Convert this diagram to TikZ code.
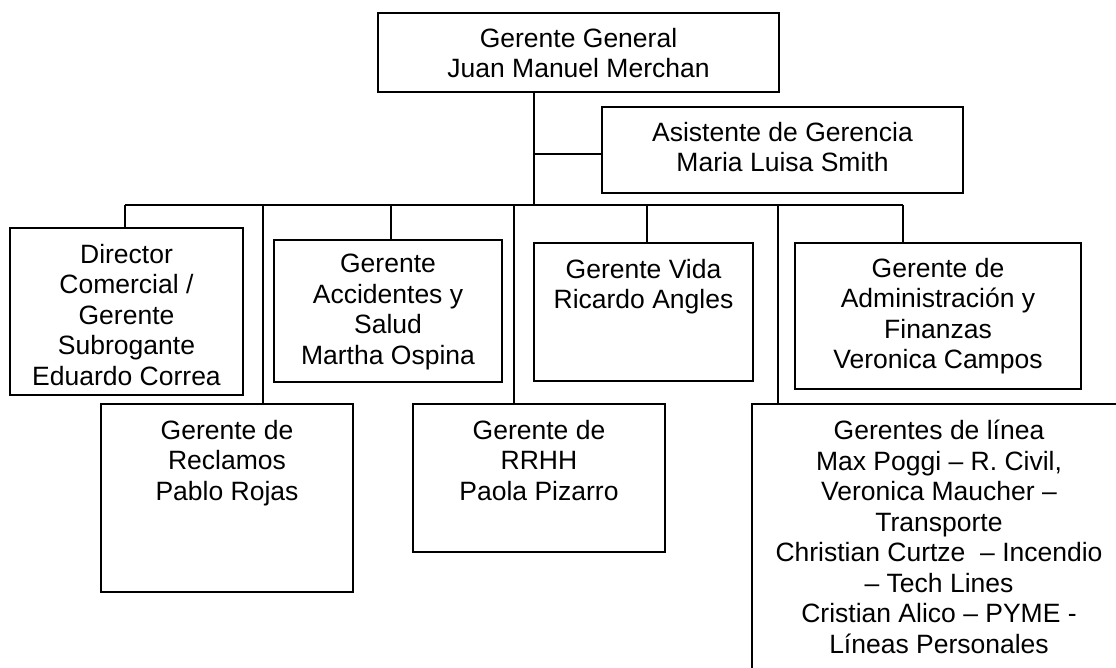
\documentclass[tikz,border=0pt]{standalone}
\usepackage{fontspec}
\setmainfont{Liberation Sans}
\usetikzlibrary{positioning}

\tikzset{
  caja/.style={draw, line width=2pt, anchor=north west, inner sep=0pt, outer sep=0pt},
  texto/.style={align=center, anchor=north, inner sep=0pt,
    font=\fontsize{26.5pt}{30.5pt}\selectfont},
  linea/.style={line width=1.3pt}
}

\begin{document}
\begin{tikzpicture}[x=1pt, y=-1pt]
  \useasboundingbox (0,0) rectangle (1116,667);
  \clip (0,0) rectangle (1116,667);

  \newcommand\BusY{205}

  %% boxes
  \node[caja, minimum width=401pt, minimum height=79pt]  (gg)   at (378,13)  {};
  \node[caja, minimum width=361pt, minimum height=86pt]  (ag)   at (602,107) {};
  \node[caja, minimum width=233pt, minimum height=167pt] (dc)   at (10,228)  {};
  \node[caja, minimum width=228pt, minimum height=142pt] (acc)  at (274,240) {};
  \node[caja, minimum width=219pt, minimum height=138pt] (vida) at (534,243) {};
  \node[caja, minimum width=286pt, minimum height=146pt] (adm)  at (795,243) {};
  \node[caja, minimum width=252pt, minimum height=188pt] (rec)  at (101,404) {};
  \node[caja, minimum width=252pt, minimum height=148pt] (rrhh) at (413,404) {};
  \node[caja, minimum width=374pt, minimum height=290pt] (lin)  at (752,404) {};

  %% texts
  \node[texto, below=15pt of gg.north]   (t-gg)   {Gerente General\\Juan Manuel Merchan};
  \node[texto, below=15pt of ag.north]   (t-ag)   {Asistente de Gerencia\\Maria Luisa Smith};
  \node[texto, below=16pt of dc.north]   (t-dc)   {Director\\Comercial /\\Gerente\\Subrogante\\Eduardo Correa};
  \node[texto, below=14pt of acc.north]  (t-acc)  {Gerente\\Accidentes y\\Salud\\Martha Ospina};
  \node[texto, below=16pt of vida.north] (t-vida) {Gerente Vida\\Ricardo Angles};
  \node[texto, below=15pt of adm.north]  (t-adm)  {Gerente de\\Administración y\\Finanzas\\Veronica Campos};
  \node[texto, below=16pt of rec.north]  (t-rec)  {Gerente de\\Reclamos\\Pablo Rojas};
  \node[texto, below=16pt of rrhh.north] (t-rrhh) {Gerente de\\RRHH\\Paola Pizarro};
  \node[texto, below=16pt of lin.north]  (t-lin)  {Gerentes de línea\\Max Poggi – R. Civil,\\Veronica Maucher –\\Transporte\\Christian Curtze \ – Incendio\\– Tech Lines\\Cristian Alico – PYME -\\Líneas Personales};

  %% connectors
  \coordinate (tronco) at (534,\BusY);
  \coordinate (asis)   at (534,154);
  \draw[linea] (tronco |- gg.south) -- (tronco); % GG -> bus
  \draw[linea] (asis) -- (asis -| ag.west);      % -> Asistente

  \coordinate (bus-w) at (125,\BusY);
  \coordinate (bus-e) at (903,\BusY);
  \draw[linea] (bus-w) -- (bus-e); % bus

  \coordinate (d-rec)  at (263,\BusY);
  \coordinate (d-acc)  at (391,\BusY);
  \coordinate (d-rrhh) at (514,\BusY);
  \coordinate (d-vida) at (647,\BusY);
  \coordinate (d-lin)  at (778,\BusY);

  \draw[linea] (bus-w) -- (bus-w |- dc.north);     %% bus -> Director
  \draw[linea] (d-rec) -- (d-rec |- rec.north);    %% bus -> Reclamos
  \draw[linea] (d-acc) -- (d-acc |- acc.north);    %% bus -> Accidentes
  \draw[linea] (d-rrhh) -- (d-rrhh |- rrhh.north); %% bus -> RRHH
  \draw[linea] (d-vida) -- (d-vida |- vida.north); %% bus -> Vida
  \draw[linea] (d-lin) -- (d-lin |- lin.north);    %% bus -> Lineas
  \draw[linea] (bus-e) -- (bus-e |- adm.north);    %% bus -> Administracion
\end{tikzpicture}
\end{document}
